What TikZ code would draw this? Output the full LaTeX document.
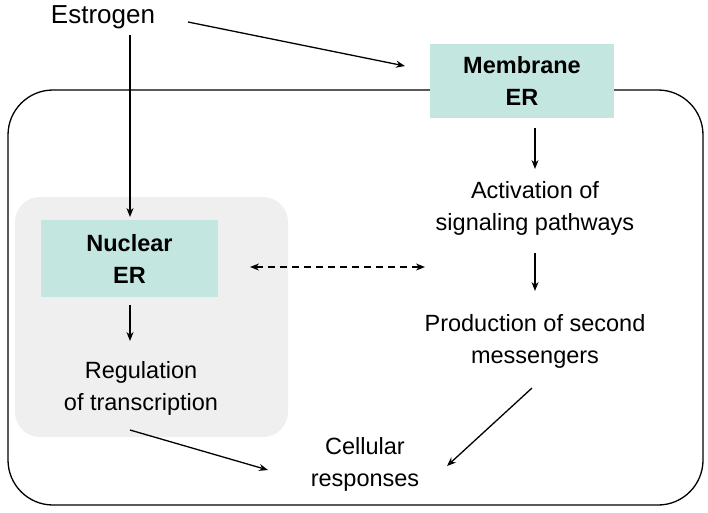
\documentclass[tikz,border=0pt]{standalone}
\usepackage{fontspec}
\setmainfont{Liberation Sans}
\usetikzlibrary{arrows.meta}
\definecolor{teal1}{HTML}{C4E6E1}
\definecolor{grey1}{HTML}{EFEFEF}
\begin{document}
\begin{tikzpicture}[x=1pt,y=-1pt,
  txt/.style={font=\fontsize{23.5}{32}\selectfont,align=center},
  box/.style={fill=teal1,draw=none,align=center,font=\fontsize{23.5}{32}\selectfont\bfseries},
  arr/.style={-{Stealth[length=9pt,width=7pt]},line width=1.3pt}]
\useasboundingbox (0,0) rectangle (708,512);
\draw[line width=1.3pt,rounded corners=45pt] (8,90) rectangle (703,505);
\fill[grey1,rounded corners=25pt] (15,197) rectangle (288,437);
\node[box,minimum width=184pt,minimum height=74pt] (mem) at (522,81) {Membrane\\ER};
\node[box,minimum width=177pt,minimum height=77pt] (nuc) at (129.5,258.5) {Nuclear\\ER};
\node[txt,font=\fontsize{26}{31}\selectfont] (est) at (103,17) {Estrogen};
\node[txt] (act) at (535,208) {Activation of\\signaling pathways};
\node[txt] (prod) at (535,341) {Production of second\\messengers};
\node[txt] (reg) at (141,388) {Regulation\\of transcription};
\node[txt] (cell) at (365,464) {Cellular\\responses};
\coordinate (a1) at (188,22); \coordinate (a2) at (405,66);
\draw[arr] (a1) -- (a2);
\coordinate (e1) at (130,35); \coordinate (n1) at (130,217);
\draw[arr] (e1) -- (n1);
\coordinate (m1) at (535,128); \coordinate (m2) at (535,169);
\draw[arr] (m1) -- (m2);
\coordinate (c1) at (535,253); \coordinate (c2) at (535,291);
\draw[arr] (c1) -- (c2);
\coordinate (n2) at (130,305); \coordinate (n3) at (130,341);
\draw[arr] (n2) -- (n3);
\coordinate (d1) at (250,267); \coordinate (d2) at (425,267);
\draw[{Stealth[length=9pt,width=7pt]}-{Stealth[length=9pt,width=7pt]},line width=1.3pt,dash pattern=on 7pt off 5pt] (d1) -- (d2);
\coordinate (r1) at (130,430); \coordinate (r2) at (268,470);
\coordinate (p1) at (532,388); \coordinate (p2) at (447,466);
\draw[arr] (r1) -- (r2);
\draw[arr] (p1) -- (p2);
\end{tikzpicture}
\end{document}
